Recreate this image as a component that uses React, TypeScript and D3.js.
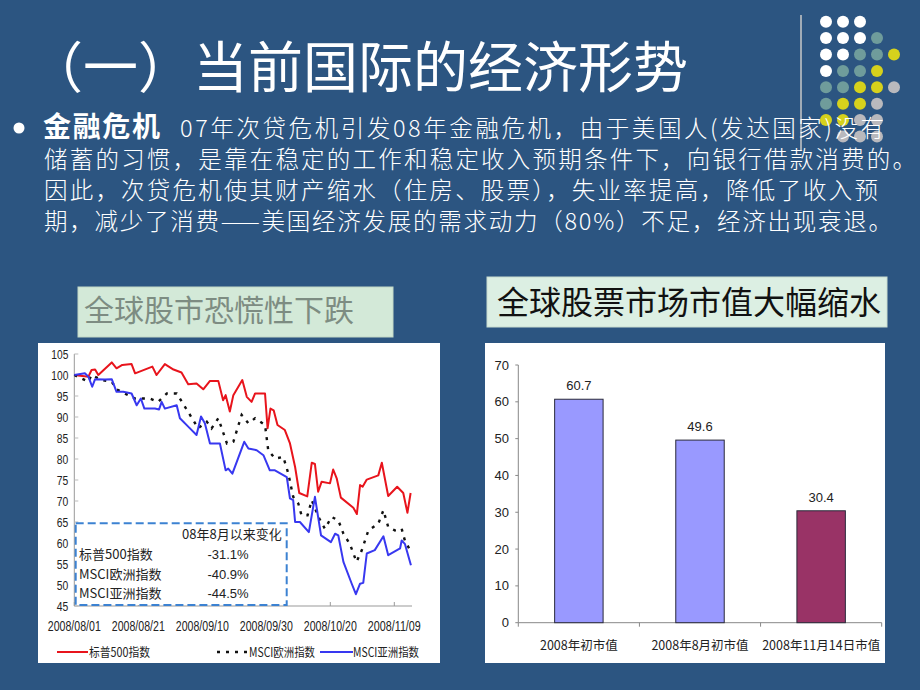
import React from 'react';
import * as d3 from 'd3';

// slide text
const titleText = '（一）当前国际的经济形势';
const leadText = '金融危机';
const bodyLines = [
  '07年次贷危机引发08年金融危机，由于美国人(发达国家)没有',
  '储蓄的习惯，是靠在稳定的工作和稳定收入预期条件下，向银行借款消费的。',
  '因此，次贷危机使其财产缩水（住房、股票），失业率提高，降低了收入预',
  '期，减少了消费——美国经济发展的需求动力（80%）不足，经济出现衰退。',
];

// left chart: [days since 2008/08/01, index value]
const sp500: [number, number][] = [
  [0, 100], [4.4, 99.6], [5.4, 101.2], [6.5, 101.3], [7.5, 100], [11.7, 103], [13.2, 101.6],
  [15, 102.4], [17.9, 102.6], [19, 100.4], [24.4, 102], [25.7, 100], [28.3, 102.6], [31, 101.3],
  [33.5, 100.6], [35.6, 97.8], [38.2, 98], [40.3, 96.6], [42.4, 98.6], [45, 98.6], [46.5, 94],
  [47.3, 95.2], [48.6, 91.3], [49.7, 95.2], [52.5, 98.8], [53.9, 94.8], [55.4, 93.6], [56.5, 95.6],
  [59.6, 95.6], [60.4, 87.3], [61.3, 92], [62.3, 91.6], [63.5, 88.1], [65.8, 86.9], [67.4, 83.7],
  [69, 78.1], [70.3, 71.9], [72.8, 71.1], [74.2, 79.1], [75.2, 78.8], [76.2, 72.2], [77.3, 74.6],
  [79.9, 74.2], [80.9, 77.5], [82, 75.4], [83.3, 70.8], [87.2, 68.4], [88.3, 66.9], [89.3, 73.8],
  [90.1, 73.4], [91.4, 75.1], [95, 76.1], [96.1, 79.1], [98.1, 71.2], [100.9, 73.4], [102.8, 71.9],
  [104.1, 67.2], [105.1, 71.9],
];
const msciEurope: [number, number][] = [
  [0, 100], [4.4, 98.4], [5.4, 100], [8.5, 98.8], [11.7, 98.4], [13.2, 96.6], [15.8, 95.6],
  [19, 94.4], [23.6, 94.4], [26.2, 93.6], [28.9, 95.6], [32, 95.6], [35.6, 91.2], [38.7, 87.3],
  [41.4, 88.9], [42.9, 87.3], [45, 89.7], [47.7, 83.7], [49.7, 84.1], [52.3, 90.5], [54.4, 88.5],
  [56.5, 89.7], [59.6, 88.1], [60.6, 82.1], [62.7, 80.1], [65.3, 80.5], [66.9, 76.5], [68.4, 71],
  [70, 69.4], [71, 66.6], [72.9, 66.6], [74.2, 70.2], [76.3, 66.2], [78.3, 63.4], [80.4, 66.2],
  [82.5, 65.4], [84.1, 62.2], [86.1, 59.8], [88.2, 55.5], [89.8, 58.2], [91.9, 63], [95, 64.6],
  [96.6, 67.8], [98.1, 63.8], [100.2, 63], [102.3, 63.4], [103.3, 60.6], [105.2, 57.9],
];
const msciAsia: [number, number][] = [
  [0, 100], [3.3, 100.4], [4.4, 99.6], [5.6, 97.2], [6.5, 99], [9.6, 98.9], [11.7, 99],
  [13.2, 96], [15.3, 96], [17.9, 95.6], [19.5, 92.8], [20.8, 94.4], [21.9, 92], [25.2, 92],
  [26.5, 91.8], [27.3, 93.6], [28.3, 92], [32, 92.8], [33, 89.7], [35.6, 87.7], [38.2, 85.7],
  [39.6, 90.1], [40.8, 88.5], [42.4, 83.7], [45.5, 83.7], [47.3, 77.3], [48.1, 77.7], [49.4, 76.5],
  [53.1, 84.1], [54.4, 82.5], [57, 82.1], [59.1, 80.9], [61.1, 77.3], [62.7, 77.3], [66.4, 75.7],
  [67.4, 70.6], [68.4, 70.2], [69, 65], [70.5, 65], [73.3, 62.6], [75.2, 71], [77.1, 61.8],
  [80.2, 60.2], [81.5, 62.2], [82.5, 61.8], [84.1, 55.5], [86.7, 50.3], [88, 47.8], [89.3, 50.3],
  [90.3, 50.5], [91.4, 57.5], [93.9, 58.3], [96.6, 61.6], [98.1, 57.1], [101.8, 58.7], [102.3, 60.6],
  [103.3, 59.8], [105.2, 54.7],
];
const dateTicks = [0, 20, 40, 60, 80, 100];
const dateLabels = ['2008/08/01', '2008/08/21', '2008/09/10', '2008/09/30', '2008/10/20', '2008/11/09'];
const indexTicks = [45, 50, 55, 60, 65, 70, 75, 80, 85, 90, 95, 100, 105];
const seriesNames = ['标普500指数', 'MSCI欧洲指数', 'MSCI亚洲指数'];
const changeValues = ['-31.1%', '-40.9%', '-44.5%'];

// right chart
const capCategories = ['2008年初市值', '2008年8月初市值', '2008年11月14日市值'];
const capValues = [60.7, 49.6, 30.4];
const capTicks = [0, 10, 20, 30, 40, 50, 60, 70];

// decorative dot grid (row -> columns present)
const dotRows = [[0, 1, 2], [0, 1, 2, 3], [0, 1, 2, 3, 4], [0, 1, 2, 3], [0, 1, 2, 3, 4], [0, 1, 2, 3], [0, 1, 2, 3], [1, 2, 3]];

const BG = '#2c5581';
const CJK = '"Noto Sans CJK SC", sans-serif';
const ARIAL = '"Liberation Sans", Arial, sans-serif';

function dotColor(s: number) {
  if (s <= 3) return '#ffffff';
  if (s <= 5) return '#6f9c9b';
  if (s <= 7) return '#d6d11c';
  return '#b9b9bd';
}

function LeftChart() {
  const x = d3.scaleLinear().domain([0, 100]).range([74.3, 394.3]);
  const y = d3.scaleLinear().domain([45, 105]).range([606, 354]);
  const line = d3.line<[number, number]>().x(d => x(d[0])).y(d => y(d[1]));
  const legendY = 652;
  return (
    <g>
      <rect x={38} y={343} width={402} height={320} fill="#fff" />
      {/* axes */}
      <line x1={x(0)} x2={x(0)} y1={y(105)} y2={y(45)} stroke="#999" />
      <line x1={x(0)} x2={412} y1={y(45)} y2={y(45)} stroke="#999" />
      {indexTicks.map(t => (
        <g key={t}>
          <line x1={x(0)} x2={x(0) + 4} y1={y(t)} y2={y(t)} stroke="#bbb" />
          <text x={x(0) - 6} y={y(t) + 4.5} textAnchor="end" fontFamily={ARIAL} fontSize={12.5}
            textLength={t >= 100 ? 17 : 11.5} lengthAdjust="spacingAndGlyphs" fill="#222">{t}</text>
        </g>
      ))}
      {dateTicks.map((t, i) => (
        <g key={t}>
          <line x1={x(t)} x2={x(t)} y1={y(45)} y2={y(45) - 4} stroke="#999" />
          <text x={x(t)} y={631} textAnchor="middle" fontFamily={ARIAL} fontSize={14}
            textLength={53} lengthAdjust="spacingAndGlyphs" fill="#222">{dateLabels[i]}</text>
        </g>
      ))}
      <path d={line(sp500) || ''} fill="none" stroke="#e8141c" strokeWidth={2} strokeLinejoin="round" />
      <path d={line(msciEurope) || ''} fill="none" stroke="#111" strokeWidth={2.4} strokeDasharray="3 6" />
      <path d={line(msciAsia) || ''} fill="none" stroke="#3838f0" strokeWidth={2} strokeLinejoin="round" />
      {/* inset table */}
      <rect x={75.7} y={523.3} width={211} height={81.7} fill="#fff" stroke="#3c82d2" strokeWidth={2}
        strokeDasharray="8 4" />
      <text x={182} y={539} fontFamily={CJK} fontSize={13} fill="#222">08年8月以来变化</text>
      {seriesNames.map((n, i) => (
        <g key={n}>
          <text x={79} y={559 + i * 19.5} fontFamily={CJK} fontSize={13} fill="#222">{n}</text>
          <text x={228} y={559 + i * 19.5} textAnchor="middle" fontFamily={ARIAL} fontSize={13} fill="#222">{changeValues[i]}</text>
        </g>
      ))}
      {/* legend */}
      <line x1={57} x2={88} y1={legendY} y2={legendY} stroke="#e8141c" strokeWidth={2} />
      <text x={89} y={legendY + 4.5} fontFamily={CJK} fontSize={12.5} fill="#222"
        textLength={61} lengthAdjust="spacingAndGlyphs">{seriesNames[0]}</text>
      <line x1={217} x2={248} y1={legendY} y2={legendY} stroke="#111" strokeWidth={2.4} strokeDasharray="3 6" />
      <text x={249} y={legendY + 4.5} fontFamily={CJK} fontSize={12.5} fill="#222"
        textLength={66} lengthAdjust="spacingAndGlyphs">{seriesNames[1]}</text>
      <line x1={320} x2={353} y1={legendY} y2={legendY} stroke="#3838f0" strokeWidth={2} />
      <text x={353} y={legendY + 4.5} fontFamily={CJK} fontSize={12.5} fill="#222"
        textLength={66} lengthAdjust="spacingAndGlyphs">{seriesNames[2]}</text>
    </g>
  );
}

function RightChart() {
  const x = d3.scaleBand<string>().domain(capCategories).range([518.3, 881.7]).paddingInner(0.6).paddingOuter(0.3);
  const y = d3.scaleLinear().domain([0, 70]).range([622.7, 365]);
  const step = x.step();
  const barColors = ['#9999ff', '#9999ff', '#993366'];
  return (
    <g>
      <rect x={485} y={343} width={400} height={320} fill="#fff" />
      <line x1={518.3} x2={518.3} y1={y(70)} y2={y(0)} stroke="#888" />
      <line x1={518.3} x2={881.7} y1={y(0)} y2={y(0)} stroke="#888" />
      {capTicks.map(t => (
        <g key={t}>
          <line x1={515.3} x2={518.3} y1={y(t)} y2={y(t)} stroke="#888" />
          <text x={509} y={y(t) + 4.5} textAnchor="end" fontFamily={ARIAL} fontSize={13} fill="#222">{t}</text>
        </g>
      ))}
      {[0, 1, 2, 3].map(i => (
        <line key={i} x1={518.3 + i * step} x2={518.3 + i * step} y1={y(0)} y2={y(0) + 4} stroke="#888" />
      ))}
      {capCategories.map((c, i) => (
        <g key={c}>
          <rect x={x(c)} y={y(capValues[i])} width={x.bandwidth()} height={y(0) - y(capValues[i])}
            fill={barColors[i]} stroke="#2a2a3a" strokeWidth={1} />
          <text x={(x(c) || 0) + x.bandwidth() / 2} y={y(capValues[i]) - 9} textAnchor="middle"
            fontFamily={ARIAL} fontSize={13} fill="#222">{capValues[i]}</text>
          <text x={(x(c) || 0) + x.bandwidth() / 2} y={650} textAnchor="middle"
            fontFamily={CJK} fontSize={12.5} fill="#222">{c}</text>
        </g>
      ))}
    </g>
  );
}

export default function App() {
  return (
    <svg width={920} height={690} style={{ position: 'absolute', left: 0, top: 0 }}>
      <rect width={920} height={690} fill={BG} />
      {/* dot grid + rule */}
      {dotRows.map((cols, r) => cols.map(c => (
        <circle key={`${r}-${c}`} cx={826 + c * 17} cy={21.7 + r * 16.4} r={6} fill={dotColor(r + c)} />
      )))}
      <line x1={801} x2={801} y1={15} y2={150} stroke="#c9c9c9" strokeWidth={1.5} />
      {/* title */}
      <text x={28} y={87} fontFamily={CJK} fontSize={55} fontWeight={400} fill="#fff">{titleText}</text>
      {/* bullet text */}
      <circle cx={19} cy={128} r={5.5} fill="#fff" />
      <text x={43} y={137} fontFamily={CJK} fontSize={28} fontWeight={700} fill="#fff"
        textLength={117} lengthAdjust="spacing">{leadText}</text>
      <text x={180} y={137} fontFamily={CJK} fontSize={23.5} fontWeight={300} fill="#fff"
        textLength={704} lengthAdjust="spacing">{bodyLines[0]}</text>
      {bodyLines.slice(1).map((l, i) => (
        <text key={i} x={44} y={168 + i * 31} fontFamily={CJK} fontSize={23.5} fontWeight={300} fill="#fff"
          textLength={[872, 834, 848][i]} lengthAdjust="spacing">{l}</text>
      ))}
      {/* chart captions */}
      <rect x={78} y={287} width={315} height={50} fill="#d3e9d8" stroke="#c2d8c6" />
      <text x={84} y={321} fontFamily={CJK} fontSize={30} fill="#7d8c82">全球股市恐慌性下跌</text>
      <rect x={487} y={277} width={400} height={50} fill="#dcefe3" stroke="#c8dccf" />
      <text x={497} y={314} fontFamily={CJK} fontSize={32} fill="#111">全球股票市场市值大幅缩水</text>
      <LeftChart />
      <RightChart />
    </svg>
  );
}
